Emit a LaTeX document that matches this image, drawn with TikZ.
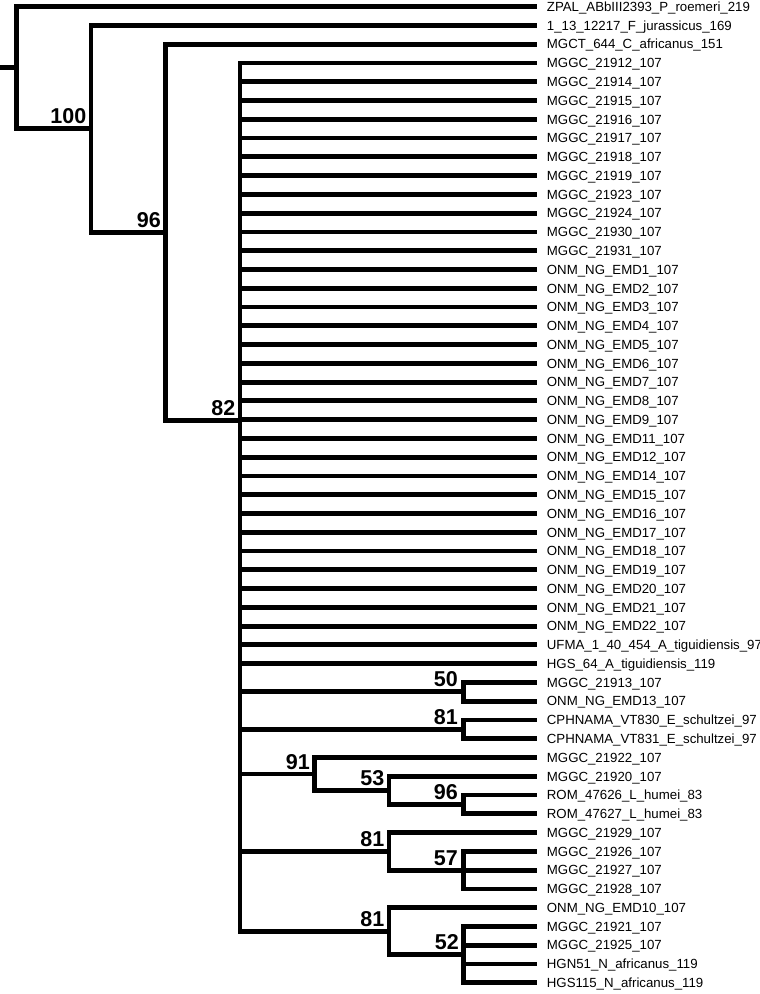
\documentclass[tikz,border=0pt]{standalone}
\usepackage{fontspec}
\setmainfont{Liberation Sans}
\begin{document}
\begin{tikzpicture}[x=1pt,y=-1pt,
  br/.style={line width=4.8pt, line join=miter},
  leaf/.style={anchor=west, inner xsep=9.4pt, inner ysep=0pt, text height=9.5pt, text depth=0pt,
    font=\fontsize{13.25}{15}\selectfont},
  supp/.style={anchor=base east, inner sep=0pt, font=\bfseries\fontsize{21.5}{24}\selectfont}]
\useasboundingbox (0,0) rectangle (760,994);
\clip (0,0) rectangle (760,994);
% leaves
\foreach \t [count=\i from 0] in {
ZPAL\_ABbIII2393\_P\_roemeri\_219,
1\_13\_12217\_F\_jurassicus\_169,
MGCT\_644\_C\_africanus\_151,
MGGC\_21912\_107, MGGC\_21914\_107, MGGC\_21915\_107, MGGC\_21916\_107,
MGGC\_21917\_107, MGGC\_21918\_107, MGGC\_21919\_107, MGGC\_21923\_107,
MGGC\_21924\_107, MGGC\_21930\_107, MGGC\_21931\_107,
ONM\_NG\_EMD1\_107, ONM\_NG\_EMD2\_107, ONM\_NG\_EMD3\_107, ONM\_NG\_EMD4\_107,
ONM\_NG\_EMD5\_107, ONM\_NG\_EMD6\_107, ONM\_NG\_EMD7\_107, ONM\_NG\_EMD8\_107,
ONM\_NG\_EMD9\_107, ONM\_NG\_EMD11\_107, ONM\_NG\_EMD12\_107, ONM\_NG\_EMD14\_107,
ONM\_NG\_EMD15\_107, ONM\_NG\_EMD16\_107, ONM\_NG\_EMD17\_107, ONM\_NG\_EMD18\_107,
ONM\_NG\_EMD19\_107, ONM\_NG\_EMD20\_107, ONM\_NG\_EMD21\_107, ONM\_NG\_EMD22\_107,
UFMA\_1\_40\_454\_A\_tiguidiensis\_97,
HGS\_64\_A\_tiguidiensis\_119,
MGGC\_21913\_107, ONM\_NG\_EMD13\_107,
CPHNAMA\_VT830\_E\_schultzei\_97, CPHNAMA\_VT831\_E\_schultzei\_97,
MGGC\_21922\_107, MGGC\_21920\_107,
ROM\_47626\_L\_humei\_83, ROM\_47627\_L\_humei\_83,
MGGC\_21929\_107, MGGC\_21926\_107, MGGC\_21927\_107, MGGC\_21928\_107,
ONM\_NG\_EMD10\_107, MGGC\_21921\_107, MGGC\_21925\_107,
HGN51\_N\_africanus\_119, HGS115\_N\_africanus\_119}
  \node[leaf] (L\i) at (537.3,{6.7+18.77*\i}) {\t};
% internal nodes
\coordinate (stub) at (0,67.75);
\coordinate (root) at (16.5,67.75);
\coordinate (n100) at (91,128.8);
\coordinate (n96a) at (165.5,232.2);
\coordinate (n82) at (240,420.2);
\coordinate (n50) at (463.5,691.8);
\coordinate (n81a) at (463.5,729.3);
\coordinate (n91) at (314.5,773.9);
\coordinate (n53) at (389,790.3);
\coordinate (n96b) at (463.5,804.4);
\coordinate (n81b) at (389,851.35);
\coordinate (n57) at (463.5,870.1);
\coordinate (n81c) at (389,931.15);
\coordinate (n52) at (463.5,954.6);
% branches
\draw[br] (stub) -- (root);
\draw[br] (root) |- (L0.west);
\draw[br] (root) |- (n100);
\draw[br] (n100) |- (L1.west);
\draw[br] (n100) |- (n96a);
\draw[br] (n96a) |- (L2.west);
\draw[br] (n96a) |- (n82);
\foreach \i in {3,...,35} \draw[br] (n82) |- (L\i.west);
\foreach \n in {n50,n81a,n91,n81b,n81c} \draw[br] (n82) |- (\n);
\foreach \i in {36,37} \draw[br] (n50) |- (L\i.west);
\foreach \i in {38,39} \draw[br] (n81a) |- (L\i.west);
\draw[br] (n91) |- (L40.west);
\draw[br] (n91) |- (n53);
\draw[br] (n53) |- (L41.west);
\draw[br] (n53) |- (n96b);
\foreach \i in {42,43} \draw[br] (n96b) |- (L\i.west);
\draw[br] (n81b) |- (L44.west);
\draw[br] (n81b) |- (n57);
\foreach \i in {45,46,47} \draw[br] (n57) |- (L\i.west);
\draw[br] (n81c) |- (L48.west);
\draw[br] (n81c) |- (n52);
\foreach \i in {49,...,52} \draw[br] (n52) |- (L\i.west);
% support values
\node[supp] (s100) at ([shift={(-4.5,-4.9)}]n100) {100};
\node[supp] (s96a) at ([shift={(-4.5,-4.9)}]n96a) {96};
\node[supp] (s82) at ([shift={(-4.5,-4.9)}]n82) {82};
\node[supp] (s50) at ([shift={(-5.5,-4.9)}]n50) {50};
\node[supp] (s81a) at ([shift={(-5.5,-4.9)}]n81a) {81};
\node[supp] (s91) at ([shift={(-4.5,-4.9)}]n91) {91};
\node[supp] (s53) at ([shift={(-4.5,-4.9)}]n53) {53};
\node[supp] (s96b) at ([shift={(-5.5,-4.9)}]n96b) {96};
\node[supp] (s81b) at ([shift={(-4.5,-4.9)}]n81b) {81};
\node[supp] (s57) at ([shift={(-5.5,-4.9)}]n57) {57};
\node[supp] (s81c) at ([shift={(-4.5,-4.9)}]n81c) {81};
\node[supp] (s52) at ([shift={(-4.5,-4.9)}]n52) {52};
\end{tikzpicture}
\end{document}
